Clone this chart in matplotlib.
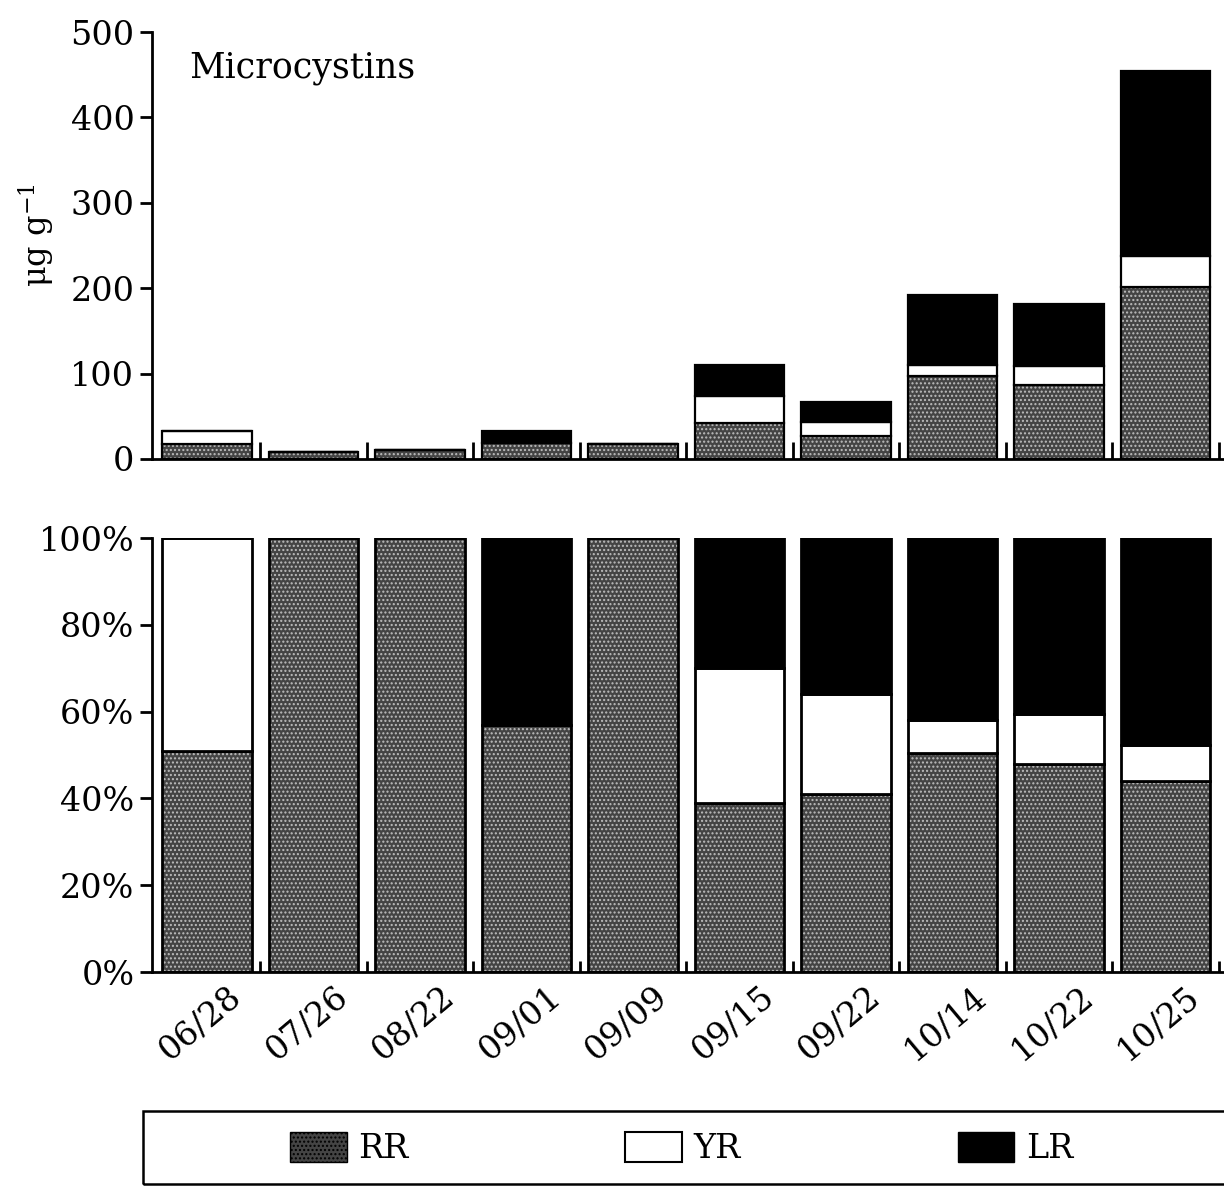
import numpy as np
import matplotlib.pyplot as plt
from matplotlib.patches import Patch, Rectangle
from matplotlib.transforms import ScaledTranslation

# sampling dates
dates = ['06/28', '07/26', '08/22', '09/01', '09/09',
         '09/15', '09/22', '10/14', '10/22', '10/25']

# microcystin content, ug per g (top panel)
rr_abs = [17, 8, 11, 19, 17, 42, 27, 97, 87, 201]
yr_abs = [16, 0, 0, 0, 0, 32, 16, 13, 22, 37]
lr_abs = [0, 0, 0, 14, 0, 36, 24, 82, 73, 216]

# share of each variant, % (bottom panel)
rr_pct = [51, 100, 100, 57, 100, 39, 41, 50.5, 48, 44]
yr_pct = [49, 0, 0, 0, 0, 31, 23, 7.5, 11.5, 8.3]
lr_pct = [0, 0, 0, 43, 0, 30, 36, 42, 40.5, 47.7]

plt.rcParams['font.family'] = 'DejaVu Serif'
plt.rcParams['mathtext.fontset'] = 'dejavuserif'

fig = plt.figure(figsize=(12.24, 11.89), dpi=100)
ax1 = fig.add_axes([0.124, 0.614, 0.876, 0.359])
ax2 = fig.add_axes([0.124, 0.1825, 0.876, 0.365])

x = np.arange(len(dates))
w = 0.84
rr_face = '#444444'
rr_dots = '#bdbdbd'


def stack(ax, rr, yr, lr, lw):
    rr = np.array(rr, float)
    yr = np.array(yr, float)
    lr = np.array(lr, float)
    # RR: dark stipple
    ax.bar(x, rr, w, color=rr_face, hatch='....', edgecolor=rr_dots, linewidth=0)
    ax.bar(x, rr, w, fill=False, edgecolor='black', linewidth=lw)
    ax.bar(x, yr, w, bottom=rr, color='white', edgecolor='black', linewidth=lw)
    ax.bar(x, lr, w, bottom=rr + yr, color='black', edgecolor='black', linewidth=lw)


stack(ax1, rr_abs, yr_abs, lr_abs, 1.6)
stack(ax2, rr_pct, yr_pct, lr_pct, 2)

for ax in (ax1, ax2):
    ax.set_xlim(-0.52, 9.55)
    for s in ('top', 'right'):
        ax.spines[s].set_visible(False)
    for s in ('left', 'bottom'):
        ax.spines[s].set_linewidth(2)
    ax.set_xticks(x + 0.5, minor=True)
    ax.set_xticks(x)
    ax.tick_params(axis='x', which='major', length=0)
    ax.tick_params(axis='y', direction='out', length=9, width=2, labelsize=24)
ax1.tick_params(axis='x', which='minor', direction='in', length=12, width=2)
ax2.tick_params(axis='x', which='minor', direction='in', length=8, width=2)

ax1.set_ylim(0, 500)
ax1.set_yticks(range(0, 501, 100))
ax1.set_xticklabels([])
ax1.set_ylabel(r'$\mathrm{\mu g\ g^{-1}}$', fontsize=23)
ax1.yaxis.set_label_coords(-0.088, 0.525)
ax1.text(0.035, 0.955, 'Microcystins', transform=ax1.transAxes,
         fontsize=25, va='top', ha='left')

ax2.set_ylim(0, 100)
ax2.set_yticks(range(0, 101, 20))
ax2.set_yticklabels([f'{v}%' for v in range(0, 101, 20)])
ax2.set_xticklabels(dates, rotation=40, ha='right', va='top',
                    rotation_mode='anchor', fontsize=24)
ax2.tick_params(axis='x', which='major', pad=6)
shift = ScaledTranslation(0.2, 0, fig.dpi_scale_trans)
for lab in ax2.get_xticklabels():
    lab.set_transform(lab.get_transform() + shift)

# legend box spanning the width, entries centred inside
fig.patches.append(Rectangle((0.117, 0.004), 0.9, 0.062, transform=fig.transFigure,
                             fill=False, edgecolor='black', linewidth=1.8))
handles = [Patch(facecolor=rr_face, edgecolor='black', hatch='....'),
           Patch(facecolor='white', edgecolor='black', linewidth=1.5),
           Patch(facecolor='black', edgecolor='black')]
fig.legend(handles, ['RR', 'YR', 'LR'], loc='center',
           bbox_to_anchor=(0.557, 0.034), ncol=3, fontsize=24, frameon=False,
           handlelength=1.7, handleheight=1.0, handletextpad=0.35,
           columnspacing=6.5)

fig.savefig('out.png', dpi=100)
